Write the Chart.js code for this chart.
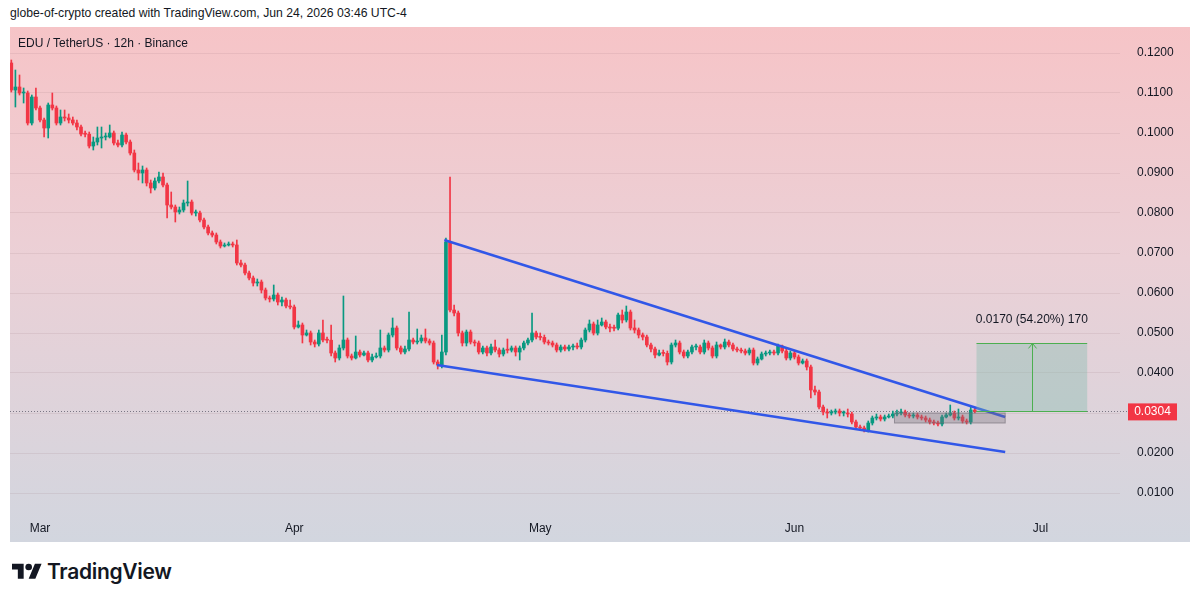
<!DOCTYPE html>
<html>
<head>
<meta charset="utf-8">
<script src="https://cdn.jsdelivr.net/npm/chart.js@4.4.1/dist/chart.umd.min.js"></script>
<style>
    html, body { margin: 0; padding: 0; background: #ffffff; }
    body { width: 1200px; height: 602px; position: relative; overflow: hidden; font-family: "Liberation Sans", Arial, sans-serif; color: #131722; }
    .snapshot-header { position: absolute; left: 10px; top: 6px; font-size: 12.2px; white-space: nowrap; }
    .chart-pane { position: absolute; left: 10px; top: 27px; width: 1180px; height: 515px;
        background: linear-gradient(180deg, #f6c4c7 0%, #ebd0d6 45%, #d2d6df 100%); }
    .chart-pane canvas { position: absolute; left: 0; top: 0; }
    .symbol-title { position: absolute; left: 8px; top: 9px; font-size: 12px; white-space: nowrap; }
    .tv-logo { position: absolute; left: 12px; top: 559px; display: flex; align-items: center; }
    .tv-logo span { font-family: Inter, "Liberation Sans", sans-serif; font-weight: 600; font-size: 21px; margin-left: 5px; letter-spacing: -0.3px; color: #131722; }
</style>
</head>
<body>
<div class="snapshot-header">globe-of-crypto created with TradingView.com, Jun 24, 2026 03:46 UTC-4</div>
<div class="chart-pane">
    <canvas id="chart" width="1180" height="515"></canvas>
    <div class="symbol-title">EDU / TetherUS · 12h · Binance</div>
</div>
<div class="tv-logo">
    <svg width="30" height="24" viewBox="0 0 36 28"><path fill="#131722" d="M14 22H7V11H0V4h14v18zM28 22h-8l7.5-18h8L28 22z"/><circle fill="#131722" cx="20" cy="8" r="4"/></svg>
    <span>TradingView</span>
</div>
<script>
// x values are days counted from Mar 1; one candle every 12h
const FIRST_CANDLE_DAY = -3.5;
const monthTicks = [0, 31, 61, 92, 122];
const monthLabels = ['Mar', 'Apr', 'May', 'Jun', 'Jul'];
const priceTicks = [0.01, 0.02, 0.03, 0.04, 0.05, 0.06, 0.07, 0.08, 0.09, 0.10, 0.11, 0.12];

// EDU/USDT 12h candles. open = previous close
const firstOpen = 0.1175;
const closes = [
    0.11075, 0.1115, 0.1100, 0.1100, 0.1025, 0.1090, 0.10625, 0.10325, 0.10125, 0.1070,
    0.10625, 0.1025, 0.1040, 0.10375, 0.10325, 0.1025, 0.1015, 0.09975, 0.0997, 0.09675,
    0.09775, 0.09875, 0.0990, 0.0990, 0.1000, 0.0975, 0.0970, 0.0995, 0.09775, 0.0950,
    0.09075, 0.0900, 0.09075, 0.0875, 0.08625, 0.0880, 0.0890, 0.0870, 0.0820, 0.0815,
    0.08025, 0.08075, 0.0825, 0.08275, 0.0800, 0.0800, 0.07825, 0.0765, 0.0750, 0.0745,
    0.07275, 0.07175, 0.0720, 0.07225, 0.0720, 0.0675, 0.0670, 0.0650, 0.06375, 0.0625,
    0.06275, 0.06075, 0.05875, 0.0585, 0.0595, 0.05775, 0.05825, 0.05675, 0.0565, 0.0515,
    0.0520, 0.0495, 0.0500, 0.04775, 0.04725, 0.0500, 0.04825, 0.0482, 0.0450, 0.04375,
    0.04625, 0.04825, 0.04425, 0.04375, 0.04525, 0.0445, 0.0450, 0.04325, 0.0440, 0.04425,
    0.04625, 0.04575, 0.0495, 0.05125, 0.04625, 0.04525, 0.0460, 0.04825, 0.04775, 0.0480,
    0.04875, 0.0480, 0.0475, 0.04275, 0.0420, 0.04525, 0.07275, 0.05575, 0.0550, 0.0500,
    0.0475, 0.05025, 0.04775, 0.0475, 0.04525, 0.04625, 0.0450, 0.0465, 0.04575, 0.04475,
    0.04575, 0.0457, 0.04625, 0.04525, 0.04625, 0.0475, 0.04825, 0.0500, 0.0490, 0.0489,
    0.04775, 0.0475, 0.0470, 0.04575, 0.0465, 0.0460, 0.0465, 0.04675, 0.0465, 0.04825,
    0.05075, 0.05225, 0.0500, 0.0520, 0.05275, 0.0515, 0.05125, 0.0512, 0.0545, 0.05325,
    0.05525, 0.05125, 0.05075, 0.0495, 0.0490, 0.0470, 0.0460, 0.0445, 0.0450, 0.0449,
    0.04275, 0.0470, 0.0475, 0.04525, 0.04425, 0.04525, 0.0465, 0.0465, 0.04525, 0.0475,
    0.04625, 0.04425, 0.0470, 0.0465, 0.04775, 0.0470, 0.0460, 0.04575, 0.0455, 0.0450,
    0.04575, 0.0425, 0.0435, 0.04475, 0.0450, 0.04525, 0.0450, 0.04675, 0.0455, 0.04375,
    0.0450, 0.0440, 0.0425, 0.0430, 0.0415, 0.03575, 0.03525, 0.0315, 0.03025, 0.0300,
    0.03025, 0.0305, 0.0300, 0.0300, 0.02975, 0.02775, 0.0265, 0.02625, 0.02575, 0.0275,
    0.02875, 0.0290, 0.0285, 0.0290, 0.02925, 0.02975, 0.0300, 0.03025, 0.0295, 0.02925,
    0.0295, 0.0290, 0.02875, 0.02825, 0.02775, 0.0275, 0.02725, 0.0290, 0.0295, 0.0300,
    0.02875, 0.0290, 0.0280, 0.02775, 0.03075, 0.0304
];
const highs = [
    0.11825, 0.11575, 0.1145, 0.11125, 0.1105, 0.1095, 0.11125, 0.10675, 0.10375, 0.1075,
    0.1100, 0.10675, 0.10575, 0.10575, 0.10475, 0.1040, 0.10325, 0.1020, 0.1005, 0.10025,
    0.0990, 0.1015, 0.1015, 0.1000, 0.1020, 0.1005, 0.09825, 0.10025, 0.1000, 0.09825,
    0.09575, 0.0925, 0.09175, 0.09125, 0.08825, 0.08875, 0.09025, 0.0900, 0.0875, 0.08525,
    0.0820, 0.0815, 0.08325, 0.0880, 0.08325, 0.08075, 0.0805, 0.07875, 0.0770, 0.0755,
    0.0750, 0.07325, 0.0725, 0.07275, 0.07275, 0.07325, 0.06825, 0.0675, 0.0655, 0.06425,
    0.0635, 0.06325, 0.06125, 0.05925, 0.0620, 0.0600, 0.0590, 0.05875, 0.05825, 0.0570,
    0.0530, 0.0525, 0.05075, 0.0505, 0.04825, 0.05075, 0.05325, 0.0490, 0.0520, 0.0455,
    0.0470, 0.05925, 0.04875, 0.04475, 0.04925, 0.04575, 0.0455, 0.0455, 0.04475, 0.0450,
    0.05075, 0.04675, 0.0500, 0.05375, 0.05175, 0.04675, 0.04675, 0.05525, 0.04875, 0.0510,
    0.0495, 0.0510, 0.0485, 0.0480, 0.04325, 0.0495, 0.07375, 0.0890, 0.0570, 0.0555,
    0.0505, 0.05075, 0.05075, 0.04825, 0.0480, 0.04675, 0.04675, 0.04725, 0.04825, 0.04625,
    0.04625, 0.0485, 0.04675, 0.04675, 0.04675, 0.0480, 0.04875, 0.0550, 0.0505, 0.0500,
    0.0495, 0.04825, 0.0480, 0.0475, 0.0470, 0.0470, 0.0470, 0.04725, 0.0475, 0.04875,
    0.05125, 0.05325, 0.05275, 0.05325, 0.05375, 0.05325, 0.05225, 0.0520, 0.0550, 0.05575,
    0.05675, 0.05575, 0.05325, 0.05125, 0.0500, 0.0495, 0.0475, 0.0465, 0.04575, 0.04575,
    0.0455, 0.0475, 0.04825, 0.0480, 0.04575, 0.04575, 0.0470, 0.04725, 0.0470, 0.04825,
    0.0480, 0.04675, 0.04775, 0.04725, 0.0485, 0.04825, 0.0475, 0.0465, 0.04625, 0.0460,
    0.04625, 0.04625, 0.0440, 0.04525, 0.0455, 0.04575, 0.04575, 0.04725, 0.0470, 0.0460,
    0.0455, 0.0455, 0.0445, 0.0435, 0.0435, 0.0420, 0.03675, 0.03575, 0.0320, 0.0310,
    0.03075, 0.0310, 0.0310, 0.0305, 0.0310, 0.03025, 0.02825, 0.0270, 0.02675, 0.0280,
    0.02925, 0.02975, 0.0295, 0.0295, 0.02975, 0.0305, 0.03075, 0.0310, 0.03075, 0.0300,
    0.0300, 0.0300, 0.0295, 0.02925, 0.02875, 0.02825, 0.0280, 0.0295, 0.0300, 0.0320,
    0.0305, 0.0310, 0.0295, 0.0285, 0.0315, 0.03125
];
const lows = [
    0.11025, 0.1065, 0.1095, 0.1075, 0.1020, 0.1020, 0.10575, 0.10275, 0.0990, 0.09875,
    0.10575, 0.1020, 0.1020, 0.1030, 0.1025, 0.1020, 0.10075, 0.09925, 0.0990, 0.09625,
    0.09575, 0.0970, 0.09625, 0.09825, 0.09875, 0.0970, 0.0965, 0.0965, 0.09725, 0.0945,
    0.09025, 0.08825, 0.0875, 0.08675, 0.0850, 0.08575, 0.0875, 0.0865, 0.07875, 0.0810,
    0.07775, 0.07975, 0.08025, 0.08175, 0.0795, 0.07925, 0.07775, 0.0760, 0.0745, 0.0740,
    0.07225, 0.07125, 0.0715, 0.07175, 0.0715, 0.0670, 0.0665, 0.0645, 0.06325, 0.06175,
    0.06175, 0.0600, 0.05825, 0.05775, 0.0580, 0.0570, 0.05675, 0.05625, 0.0560, 0.0510,
    0.05125, 0.0475, 0.04925, 0.0470, 0.0465, 0.04675, 0.04775, 0.0475, 0.04425, 0.04275,
    0.04325, 0.04575, 0.04375, 0.04325, 0.0435, 0.0440, 0.04425, 0.04275, 0.04275, 0.04375,
    0.04375, 0.04525, 0.04525, 0.0490, 0.04575, 0.04475, 0.04475, 0.0455, 0.04725, 0.04725,
    0.0475, 0.0475, 0.0470, 0.04225, 0.0410, 0.04125, 0.0445, 0.05525, 0.05425, 0.04925,
    0.04675, 0.04675, 0.04725, 0.04675, 0.04475, 0.04475, 0.04425, 0.0445, 0.04525, 0.0440,
    0.04425, 0.0450, 0.04525, 0.04425, 0.04325, 0.04575, 0.0470, 0.04775, 0.0485, 0.04825,
    0.04725, 0.0470, 0.0465, 0.04525, 0.04525, 0.0455, 0.0455, 0.04575, 0.0460, 0.0460,
    0.04775, 0.05025, 0.0495, 0.0495, 0.05175, 0.0510, 0.05025, 0.0505, 0.05075, 0.0525,
    0.05275, 0.05075, 0.0500, 0.04875, 0.04825, 0.0465, 0.04525, 0.04375, 0.04425, 0.04425,
    0.0420, 0.04225, 0.0465, 0.04475, 0.04375, 0.04375, 0.04475, 0.04575, 0.04475, 0.04475,
    0.04575, 0.04375, 0.04375, 0.0460, 0.0460, 0.0465, 0.0455, 0.04525, 0.0450, 0.0445,
    0.0445, 0.0420, 0.0420, 0.04325, 0.04425, 0.0445, 0.0445, 0.0445, 0.0450, 0.04325,
    0.04325, 0.0435, 0.0420, 0.04225, 0.04075, 0.03375, 0.0345, 0.0310, 0.0295, 0.02875,
    0.0295, 0.02975, 0.02925, 0.02925, 0.0290, 0.02725, 0.0260, 0.02575, 0.02525, 0.02525,
    0.0270, 0.02825, 0.0280, 0.0280, 0.02875, 0.02875, 0.02925, 0.0295, 0.0290, 0.02875,
    0.02875, 0.0285, 0.02825, 0.02775, 0.02725, 0.0270, 0.02675, 0.02675, 0.02875, 0.02925,
    0.02825, 0.02825, 0.0275, 0.02725, 0.02725, 0.0300
];

// drawings on the chart, in [day, price]
const lastPrice = 0.0304;
const upperTrend = [[49.3, 0.07325], [117.7, 0.0290]];
const lowerTrend = [[48.4, 0.0420], [117.7, 0.02025]];
const rangeBox = { from: 104.2, to: 117.7, top: 0.0300, bottom: 0.0275 };
const measureBox = { from: 114.2, to: 127.7, bottom: 0.0304, top: 0.0474, label: '0.0170 (54.20%) 170' };

const UP = '#089981';
const DOWN = '#f23645';

const opens = closes.map((c, i) => (i === 0 ? firstOpen : closes[i - 1]));
const days = closes.map((_, i) => FIRST_CANDLE_DAY + i * 0.5);
const candleColors = closes.map((c, i) => (c >= opens[i] ? UP : DOWN));

const overlayPlugin = {
    id: 'overlay',
    beforeDatasetsDraw(chart) {
        const { ctx, chartArea, scales: { y } } = chart;
        const py = Math.round(y.getPixelForValue(lastPrice)) + 0.5;
        ctx.save();
        ctx.strokeStyle = 'rgba(80,80,95,0.7)';
        ctx.lineWidth = 1;
        ctx.setLineDash([1, 2]);
        ctx.beginPath();
        ctx.moveTo(chartArea.left, py);
        ctx.lineTo(chartArea.right + 7, py);
        ctx.stroke();
        ctx.restore();
    },
    afterDatasetsDraw(chart) {
        const { ctx, chartArea, scales: { x, y } } = chart;
        ctx.save();

        // consolidation box
        const bx1 = x.getPixelForValue(rangeBox.from);
        const bx2 = x.getPixelForValue(rangeBox.to);
        const by1 = y.getPixelForValue(rangeBox.top);
        const by2 = y.getPixelForValue(rangeBox.bottom);
        ctx.fillStyle = 'rgba(120,115,125,0.35)';
        ctx.fillRect(bx1, by1, bx2 - bx1, by2 - by1);
        ctx.strokeStyle = 'rgba(110,105,115,0.6)';
        ctx.lineWidth = 1;
        ctx.strokeRect(bx1, by1, bx2 - bx1, by2 - by1);

        // price range measurement
        const mx1 = x.getPixelForValue(measureBox.from);
        const mx2 = x.getPixelForValue(measureBox.to);
        const my1 = y.getPixelForValue(measureBox.top);
        const my2 = y.getPixelForValue(measureBox.bottom);
        ctx.fillStyle = 'rgba(120,185,170,0.35)';
        ctx.fillRect(mx1, my1, mx2 - mx1, my2 - my1);
        ctx.strokeStyle = '#4caf50';
        ctx.beginPath();
        ctx.moveTo(mx1, Math.round(my1) + 0.5);
        ctx.lineTo(mx2, Math.round(my1) + 0.5);
        ctx.moveTo(mx1, Math.round(my2) + 0.5);
        ctx.lineTo(mx2, Math.round(my2) + 0.5);
        const mc = Math.round((mx1 + mx2) / 2) + 0.5;
        ctx.moveTo(mc, my2);
        ctx.lineTo(mc, my1);
        ctx.moveTo(mc - 4, my1 + 5);
        ctx.lineTo(mc, my1);
        ctx.lineTo(mc + 4, my1 + 5);
        ctx.stroke();

        ctx.fillStyle = '#131722';
        ctx.font = '12px "Liberation Sans", Arial, sans-serif';
        ctx.textAlign = 'center';
        ctx.textBaseline = 'middle';
        ctx.fillText(measureBox.label, (mx1 + mx2) / 2, my1 - 24);

        // last price label on the price axis
        const py = y.getPixelForValue(lastPrice);
        ctx.fillStyle = DOWN;
        ctx.fillRect(chartArea.right + 8, py - 8, 49, 17);
        ctx.fillStyle = '#ffffff';
        ctx.font = '12px "Liberation Sans", Arial, sans-serif';
        ctx.fillText(lastPrice.toFixed(4), chartArea.right + 32.5, py + 0.5);

        ctx.restore();
    }
};

const trendStyle = {
    type: 'line',
    borderColor: '#3157e8',
    borderWidth: 2.5,
    pointRadius: 0,
    fill: false,
    order: 0,
};

new Chart(document.getElementById('chart'), {
    type: 'bar',
    data: {
        datasets: [
            { ...trendStyle, label: 'upper', data: upperTrend.map(([d, p]) => ({ x: d, y: p })) },
            { ...trendStyle, label: 'lower', data: lowerTrend.map(([d, p]) => ({ x: d, y: p })) },
            {
                label: 'bodies',
                data: days.map((d, i) => ({ x: d, y: [opens[i], closes[i]] })),
                backgroundColor: candleColors,
                barThickness: 3,
                minBarLength: 1,
                grouped: false,
                order: 1,
            },
            {
                label: 'wicks',
                data: days.map((d, i) => ({ x: d, y: [lows[i], highs[i]] })),
                backgroundColor: candleColors,
                barThickness: 1,
                grouped: false,
                order: 2,
            },
        ],
    },
    options: {
        responsive: false,
        animation: false,
        layout: { padding: 0 },
        plugins: {
            legend: { display: false },
            tooltip: { enabled: false },
        },
        scales: {
            x: {
                type: 'linear',
                min: -3.66,
                max: 131.7,
                offset: false,
                grid: { display: false, drawTicks: false },
                border: { display: false },
                afterBuildTicks: (scale) => { scale.ticks = monthTicks.map(v => ({ value: v })); },
                afterFit: (scale) => {
                    scale.height = 30;
                    scale.paddingLeft = 0;
                    scale.paddingRight = 0;
                },
                ticks: {
                    autoSkip: false,
                    maxRotation: 0,
                    padding: 9,
                    color: '#131722',
                    font: { family: '"Liberation Sans", Arial, sans-serif', size: 12 },
                    callback: (value) => monthLabels[monthTicks.indexOf(value)],
                },
            },
            y: {
                position: 'right',
                min: 0.00525,
                max: 0.1265,
                grid: { color: 'rgba(150,105,115,0.13)', drawTicks: false },
                border: { display: false },
                afterBuildTicks: (scale) => { scale.ticks = priceTicks.map(v => ({ value: v })); },
                afterFit: (scale) => {
                    scale.width = 70;
                    scale.paddingTop = 0;
                    scale.paddingBottom = 0;
                },
                ticks: {
                    padding: 17,
                    color: '#131722',
                    font: { family: '"Liberation Sans", Arial, sans-serif', size: 12 },
                    callback: (value) => value.toFixed(4),
                },
            },
        },
    },
    plugins: [overlayPlugin],
});
</script>
</body>
</html>
